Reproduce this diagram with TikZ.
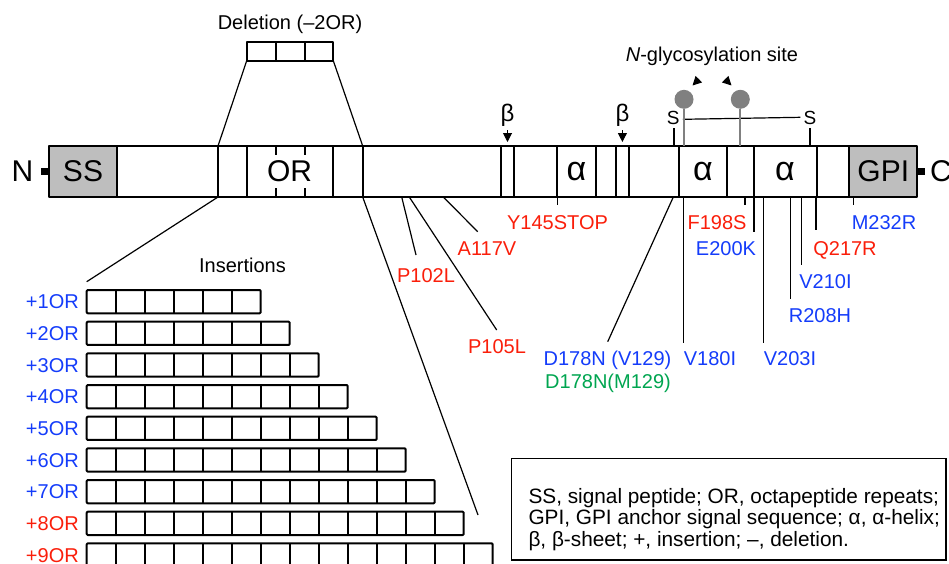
\documentclass[tikz,border=0pt]{standalone}
\usepackage{fontspec}
\setmainfont{Liberation Sans}
\usetikzlibrary{arrows.meta}
\definecolor{mred}{RGB}{250,30,10}
\definecolor{mblue}{RGB}{20,60,250}
\definecolor{mgreen}{RGB}{0,165,80}
\definecolor{boxgray}{RGB}{190,190,190}
\definecolor{glygray}{RGB}{128,128,128}
\begin{document}
\begin{tikzpicture}[x=1pt,y=-1pt,
  barln/.style={line width=2pt,line join=round},
  conn/.style={line width=1.2pt},
  lab/.style={anchor=base,inner sep=0pt,font=\fontsize{20}{24}\selectfont},
  big/.style={anchor=center,inner sep=0pt,font=\fontsize{30}{32}\selectfont},
  alph/.style={anchor=center,inner sep=0pt,font=\fontsize{34}{36}\selectfont},
  inscell/.style={line width=2pt,line join=round},
  tip/.style={-{Triangle[length=9pt,width=9pt]},line width=1pt}
]
\useasboundingbox (0,0) rectangle (949,563);
\clip (0,0) rectangle (949,563);

% ---------- main bar ----------
\fill[boxgray] (49.3,146) rectangle (117,197);
\fill[boxgray] (849.3,146) rectangle (917.3,197);
\draw[barln] (49.3,146) rectangle (917.3,197);
\foreach \xx in {117,218,246.7,333.3,362.7,500.7,514.3,557.3,595.7,615.7,629,679,727.3,754,816.7,849.3}
  \draw[barln] (\xx,146) -- (\xx,197);
\foreach \xx in {275.7,304.7}{
  \draw[barln] (\xx,146) -- (\xx,155);
  \draw[barln] (\xx,188) -- (\xx,197);
}
% terminal stubs
\fill (41,167.5) rectangle (49.3,175);
\fill (917.3,167.5) rectangle (925,175);
\node[inner sep=0pt,font=\fontsize{30}{32}\selectfont] (nterm) at (22.5,171) {N};
\node[inner sep=0pt,font=\fontsize{30}{32}\selectfont] (cterm) at (941,171) {C};

\node[big] (ss) at (83,171) {SS};
\node[big] (or) at (289.5,171) {OR};
\node[alph] (a1) at (576.5,172) {α};
\node[alph] (a2) at (703,172) {α};
\node[alph] (a3) at (785,172) {α};
\node[big] (gpi) at (883.3,171) {GPI};

% ---------- beta strands ----------
\node[inner sep=0pt,font=\fontsize{24}{26}\selectfont] (b1) at (507.5,115) {β};
\node[inner sep=0pt,font=\fontsize{24}{26}\selectfont] (b2) at (622.4,115) {β};
\coordinate (b1t) at (507.5,142);
\coordinate (b2t) at (622.4,142);
\draw[tip] (507.5,130) -- (b1t);
\draw[tip] (622.4,130) -- (b2t);

% ---------- disulfide bond ----------
\node[inner sep=0pt,font=\fontsize{19}{22}\selectfont] (s1) at (673.3,118.3) {S};
\node[inner sep=0pt,font=\fontsize{19}{22}\selectfont] (s2) at (810,118.3) {S};
\coordinate (s1b) at (674,146);
\coordinate (s2b) at (810,146);
\draw[conn] (674,128) -- (s1b);
\draw[conn] (810,128) -- (s2b);
\draw[conn] (s1.east) ++(3,1) -- ([xshift=-3pt,yshift=1pt]s2.west);

% ---------- glycosylation ----------
\node[circle,fill=glygray,minimum size=19pt,inner sep=0pt] (g1) at (684,99.3) {};
\node[circle,fill=glygray,minimum size=19pt,inner sep=0pt] (g2) at (740.3,99.3) {};
\coordinate (g1b) at (684,146);
\coordinate (g2b) at (740.3,146);
\draw[glygray,line width=2pt] (g1) -- (g1b);
\draw[glygray,line width=2pt] (g2) -- (g2b);
\node[lab] (glab) at (712,61.5) {\textit{N}-glycosylation site};
\coordinate (gt1) at (692.5,85.5);
\coordinate (gt2) at (731.5,85.5);
\draw[tip] (699,79) -- (gt1);
\draw[tip] (725,79) -- (gt2);

% ---------- deletion ----------
\node[lab] (dlab) at (290,29.2) {Deletion (–2OR)};
\draw[inscell] (246.7,42.3) rectangle (333.3,60.7);
\draw[inscell] (275.7,42.3) -- (275.7,60.7);
\draw[inscell] (304.7,42.3) -- (304.7,60.7);
\coordinate (dl) at (246.7,60.7);
\coordinate (dr) at (333.3,60.7);
\coordinate (ortl) at (218,146);
\coordinate (ortr) at (362.7,146);
\draw[conn] (dl) -- (ortl);
\draw[conn] (dr) -- (ortr);

% ---------- insertions ----------
\coordinate (orbl) at (218,197);
\coordinate (orbr) at (362.7,197);
\coordinate (insl) at (86.7,281.7);
\coordinate (insr) at (478,515);
\draw[conn] (orbl) -- (insl);
\draw[conn] (orbr) -- (insr);
\node[lab] (inslab) at (242.5,272.2) {Insertions};
\foreach \k in {1,...,9}{
  \pgfmathsetmacro\tp{290+(\k-1)*31.67}
  \pgfmathtruncatemacro\n{5+\k}
  \pgfmathtruncatemacro\nm{4+\k}
  \draw[inscell,rounded corners=1pt] (86.7,\tp) rectangle ({86.7+\n*29},{\tp+23.3});
  \foreach \j in {1,...,\nm}
    \draw[inscell] ({86.7+\j*29},\tp) -- ++(0,23.3);
}
\foreach \k in {1,...,7}
  \node[lab,anchor=base east,text=mblue] (ins\k) at (79,{308.9+(\k-1)*31.67}) {+\k OR};
\foreach \k in {8,9}
  \node[lab,anchor=base east,text=mred] (ins\k) at (79,{308.9+(\k-1)*31.67}) {+\k OR};

% ---------- mutations ----------
\node[lab,text=mred] (y145) at (557.5,229.9) {Y145STOP};
\node[lab,text=mred] (f198) at (717,229.2) {F198S};
\node[lab,text=mblue] (m232) at (884,229.2) {M232R};
\node[lab,text=mblue] (e200) at (726,255.2) {E200K};
\node[lab,text=mred] (q217) at (845,255.2) {Q217R};
\node[lab,text=mred] (a117) at (487,255.5) {A117V};
\node[lab,text=mred] (p102) at (426,282.2) {P102L};
\node[lab,text=mblue] (v210) at (825.5,288.9) {V210I};
\node[lab,text=mblue] (r208) at (820,322.2) {R208H};
\node[lab,text=mred] (p105) at (497,353.9) {P105L};
\node[lab,text=mblue] (d178v) at (607.5,365.5) {D178N (V129)};
\node[lab,text=mblue] (v180) at (710,365.2) {V180I};
\node[lab,text=mblue] (v203) at (790,365.2) {V203I};
\node[lab,text=mgreen] (d178m) at (608,388.9) {D178N(M129)};

\foreach \nm/\xa/\xb/\yb in {
  y145/557.3/557.3/205, f198/745/745/205, m232/853.3/853.3/205,
  e200/754/754/231.7, q217/816/816/230, a117/443.3/477.7/231.7,
  p102/401.7/416/255, p105/409.3/496.7/330, d178v/673.3/607.7/341.7,
  v180/683.3/683.3/342.7, v203/763.3/763.3/342.7, r208/790.7/790.7/299.3,
  v210/801.7/801.7/265}{
  \coordinate (\nm s) at (\xa,197);
  \coordinate (\nm e) at (\xb,\yb);
  \draw[conn] (\nm s) -- (\nm e);
}

% ---------- legend ----------
\draw[line width=1.2pt] (511.7,458.3) rectangle (946,560);
\node[lab,anchor=base west,font=\fontsize{20.8}{24}\selectfont] (leg1) at (528.3,503.5) {SS, signal peptide; OR, octapeptide repeats;};
\node[lab,anchor=base west,font=\fontsize{20.8}{24}\selectfont] (leg2) at (528.3,524.8) {GPI, GPI anchor signal sequence; α, α-helix;};
\node[lab,anchor=base west,font=\fontsize{20.8}{24}\selectfont] (leg3) at (528.3,546.2) {β, β-sheet; +, insertion; –, deletion.};
\end{tikzpicture}
\end{document}
